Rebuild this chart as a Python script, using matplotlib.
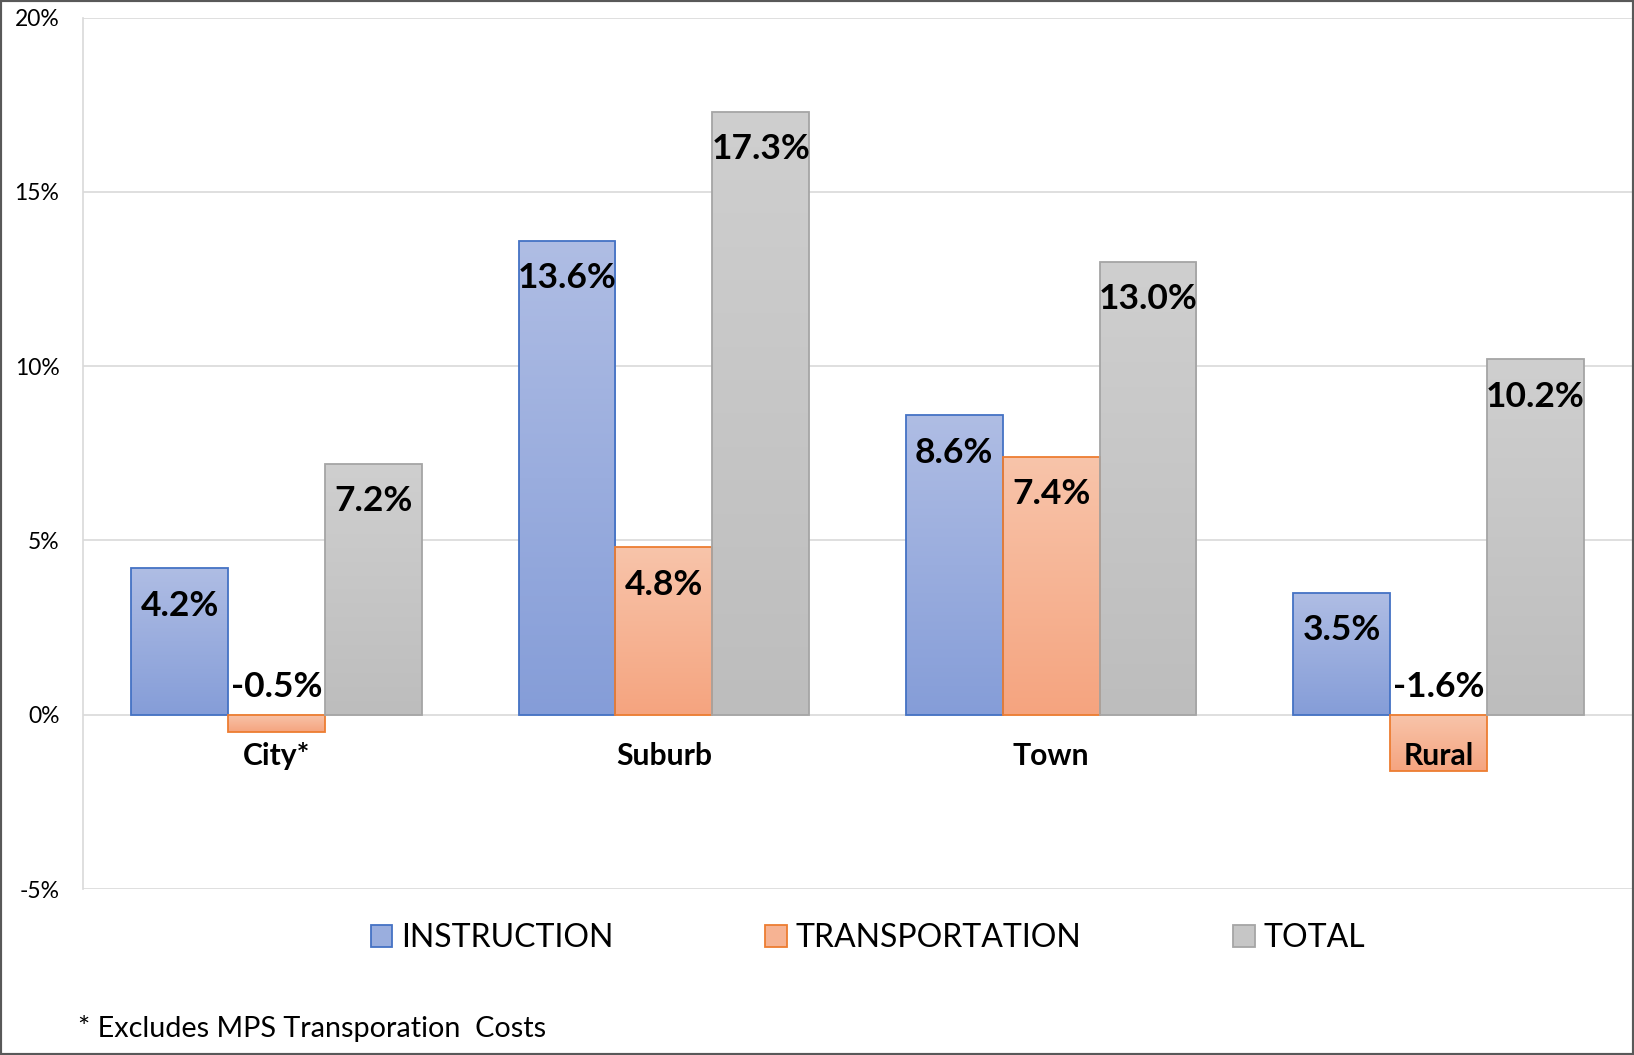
import numpy as np
import matplotlib
matplotlib.use("Agg")
import matplotlib.pyplot as plt
from matplotlib.colors import LinearSegmentedColormap
from matplotlib.patches import Rectangle, Patch
from matplotlib.ticker import FuncFormatter

# ---- data ----
categories = ["City*", "Suburb", "Town", "Rural"]
series_names = ["INSTRUCTION", "TRANSPORTATION", "TOTAL"]
instruction = [4.2, 13.6, 8.6, 3.5]
transportation = [-0.5, 4.8, 7.4, -1.6]
total = [7.2, 17.3, 13.0, 10.2]
y_ticks = [-5, 0, 5, 10, 15, 20]
footnote = "* Excludes MPS Transporation  Costs"

series_values = [instruction, transportation, total]
top_colors = ["#afbde4", "#f8c4aa", "#cfcfcf"]
bottom_colors = ["#859dd8", "#f5a47f", "#bdbdbd"]
edge_colors = ["#4472c4", "#ed7d31", "#a5a5a5"]
legend_fill = ["#9aaede", "#f6b393", "#c6c6c6"]

FONT = "Lato"
plt.rcParams["font.family"] = [FONT, "DejaVu Sans"]

W, H = 1634, 1055
fig = plt.figure(figsize=(W / 100, H / 100), dpi=100)
ax = fig.add_axes([83 / W, 1 - 889 / H, (1632 - 83) / W, (889 - 17.7) / H])

x = np.arange(len(categories))
bw = 0.25
offsets = [-bw, 0, bw]

for s, vals in enumerate(series_values):
    bars = ax.bar(x + offsets[s], vals, width=bw, facecolor="none",
                  edgecolor=edge_colors[s], linewidth=1.3, zorder=3)
    cmap = LinearSegmentedColormap.from_list(f"g{s}", [top_colors[s], bottom_colors[s]])
    grad = np.linspace(0, 1, 256).reshape(-1, 1)
    for b in bars:
        bx, by = b.get_x(), b.get_y()
        bwid, bh = b.get_width(), b.get_height()
        y0, y1 = min(by, by + bh), max(by, by + bh)
        im = ax.imshow(grad, cmap=cmap, aspect="auto", origin="upper",
                       extent=[bx, bx + bwid, y0, y1], zorder=2, interpolation="bilinear")
        im.set_clip_path(b)
    for xi, v in zip(x + offsets[s], vals):
        if v >= 0:
            ax.annotate(f"{v:.1f}%", (xi, v), xytext=(0, -27), textcoords="offset points",
                        ha="center", va="center", fontsize=25.5, fontweight="bold",
                        color="black", zorder=6)
        else:
            ax.annotate(f"{v:.1f}%", (xi, 0), xytext=(0, 20), textcoords="offset points",
                        ha="center", va="center", fontsize=25.5, fontweight="bold",
                        color="black", zorder=6)

for xi, c in zip(x, categories):
    ax.annotate(c, (xi, 0), xytext=(0, -30), textcoords="offset points",
                ha="center", va="center", fontsize=21.7, fontweight="bold",
                color="black", zorder=7)

ax.set_xlim(-0.5, 3.5)
ax.set_ylim(y_ticks[0], y_ticks[-1])
ax.set_yticks(y_ticks)
ax.yaxis.set_major_formatter(FuncFormatter(lambda v, p: f"{v:.0f}%"))
ax.set_xticks([])
ax.tick_params(axis="y", length=0, pad=17, labelsize=16.5, labelcolor="black")
ax.grid(axis="y", color="#d9d9d9", linewidth=1.2, zorder=0)
ax.set_axisbelow(True)
for sp in ["top", "right", "bottom"]:
    ax.spines[sp].set_visible(False)
ax.spines["left"].set_color("#d9d9d9")
ax.spines["left"].set_linewidth(1.2)

handles = [Patch(facecolor=legend_fill[i], edgecolor=edge_colors[i], linewidth=1.3, label=series_names[i])
           for i in range(3)]
fig.legend(handles=handles, loc="center", bbox_to_anchor=(868 / W, 1 - 938 / H), ncol=3,
           frameon=False, fontsize=23, handlelength=0.67, handleheight=0.67,
           handletextpad=0.28, columnspacing=4.76, borderaxespad=0)

fig.text(78 / W, 1 - 1028 / H, footnote, ha="left", va="center", fontsize=20.7, color="black")

fig.patches.append(Rectangle((0, 0), 1, 1, transform=fig.transFigure, fill=False,
                             edgecolor="#595959", linewidth=3, zorder=10))

fig.savefig("out.png", dpi=100)
